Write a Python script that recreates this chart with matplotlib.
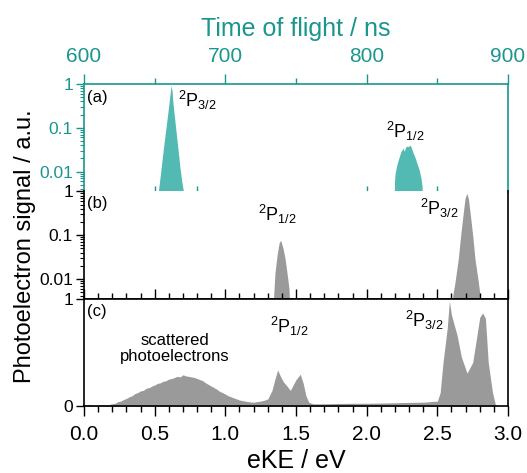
import matplotlib.pyplot as plt
from matplotlib.ticker import LogLocator, NullFormatter, FixedLocator, MultipleLocator

plt.rcParams['font.family'] = ['Liberation Sans', 'DejaVu Sans']
plt.rcParams['mathtext.fontset'] = 'custom'
plt.rcParams['mathtext.rm'] = 'Liberation Sans'
plt.rcParams['mathtext.it'] = 'Liberation Sans:italic'
plt.rcParams['mathtext.default'] = 'rm'

teal = '#1a968f'
teal_fill = '#52b9b3'
grey_fill = '#9a9a9a'

# (a) time of flight spectrum, two peaks
tof_p32 = [652.4, 652.6, 653.8, 655.2, 656.6, 658.0, 659.5, 660.9, 661.6, 662.3,
           663.0, 664.4, 665.8, 667.2, 667.9, 669.1, 670.3, 670.5]
sig_p32 = [0.002, 0.0035, 0.0074, 0.018, 0.043, 0.10, 0.245, 0.59, 0.93, 0.70,
           0.35, 0.134, 0.052, 0.020, 0.0123, 0.0062, 0.0036, 0.002]
tof_p12 = [819.4, 819.7, 820.1, 821.5, 822.9, 824.3, 825.8, 826.5, 827.9, 829.3,
           830.7, 831.4, 832.8, 834.2, 835.7, 837.1, 838.5, 839.2, 839.6]
sig_p12 = [0.002, 0.006, 0.009, 0.015, 0.021, 0.029, 0.034, 0.029, 0.038, 0.037,
           0.040, 0.036, 0.027, 0.021, 0.015, 0.011, 0.0069, 0.0045, 0.002]
tof_inner_ticks = [650, 680, 800, 850]

# (b) eKE spectrum, log scale
ekb_p12 = [1.337, 1.344, 1.351, 1.366, 1.380, 1.392, 1.408, 1.422, 1.436, 1.450, 1.457]
sigb_p12 = [0.002, 0.0054, 0.0135, 0.035, 0.066, 0.077, 0.050, 0.030, 0.0141, 0.0061, 0.002]
ekb_p32 = [2.605, 2.609, 2.625, 2.648, 2.665, 2.684, 2.696, 2.708, 2.719, 2.731,
           2.750, 2.766, 2.790, 2.802, 2.806]
sigb_p32 = [0.002, 0.0042, 0.0085, 0.029, 0.10, 0.34, 0.70, 0.91, 0.70, 0.34,
            0.10, 0.029, 0.0085, 0.0042, 0.002]

# (c) eKE spectrum, linear scale
ekc = [0.00, 0.04, 0.08, 0.12, 0.16, 0.20, 0.22, 0.24, 0.26, 0.28, 0.30, 0.32,
       0.34, 0.36, 0.38, 0.40, 0.42, 0.44, 0.46, 0.48, 0.50, 0.52, 0.54, 0.56,
       0.58, 0.60, 0.62, 0.64, 0.66, 0.68, 0.70, 0.72, 0.74, 0.76, 0.78, 0.80,
       0.82, 0.84, 0.86, 0.88, 0.90, 0.92, 0.94, 0.96, 0.98, 1.00, 1.02, 1.04,
       1.06, 1.08, 1.10, 1.12, 1.14, 1.16, 1.18, 1.20, 1.22, 1.25, 1.28, 1.30,
       1.33, 1.35, 1.37, 1.39, 1.41, 1.43, 1.46, 1.48, 1.50, 1.53, 1.55, 1.57,
       1.59, 1.62, 1.70, 1.80, 1.90, 2.00, 2.10, 2.20, 2.30, 2.40, 2.45, 2.50,
       2.52, 2.54, 2.57, 2.585, 2.60, 2.64, 2.67, 2.71, 2.75, 2.78, 2.80, 2.82,
       2.84, 2.86, 2.89, 2.91, 2.93, 3.00]
sigc = [0.015, 0.02, 0.012, 0.018, 0.015, 0.025, 0.03, 0.045, 0.05, 0.065, 0.075, 0.09,
        0.10, 0.12, 0.13, 0.145, 0.15, 0.17, 0.175, 0.19, 0.20, 0.215, 0.22, 0.235,
        0.24, 0.255, 0.26, 0.27, 0.28, 0.275, 0.295, 0.285, 0.28, 0.275, 0.27, 0.26,
        0.25, 0.24, 0.22, 0.205, 0.19, 0.175, 0.16, 0.14, 0.13, 0.115, 0.10, 0.09,
        0.08, 0.07, 0.06, 0.055, 0.05, 0.045, 0.042, 0.04, 0.045, 0.05, 0.06, 0.07,
        0.15, 0.25, 0.34, 0.28, 0.23, 0.20, 0.15, 0.20, 0.25, 0.30, 0.22, 0.10,
        0.04, 0.025, 0.025, 0.028, 0.03, 0.03, 0.032, 0.035, 0.038, 0.04, 0.045, 0.05,
        0.13, 0.41, 0.73, 0.98, 0.85, 0.66, 0.46, 0.31, 0.41, 0.66, 0.83, 0.87,
        0.82, 0.41, 0.13, 0.02, 0.0, 0.0]

fig = plt.figure(figsize=(5.27, 4.73), dpi=100)
left, width, h = 0.1594, 0.8046, 0.2273
ax_a = fig.add_axes([left, 0.5951, width, h])
ax_b = fig.add_axes([left, 0.3679, width, h])
ax_c = fig.add_axes([left, 0.1406, width, h])

# --- panel a
ax_a.fill_between(tof_p32, sig_p32, 1e-4, color=teal_fill, lw=0)
ax_a.fill_between(tof_p12, sig_p12, 1e-4, color=teal_fill, lw=0)
ax_a.set_yscale('log')
ax_a.set_ylim(0.0035, 1)
ax_a.set_xlim(600, 900)
ax_a.xaxis.tick_top()
ax_a.xaxis.set_label_position('top')
ax_a.set_xticks([600, 700, 800, 900])
ax_a.xaxis.set_minor_locator(FixedLocator([650, 750, 850]))
ax_a.set_xlabel('Time of flight / ns', fontsize=18, color=teal, labelpad=8)
ax_a.tick_params(axis='x', which='major', direction='out', length=7, width=1,
                 labelsize=15, colors=teal, pad=6)
ax_a.tick_params(axis='x', which='minor', direction='out', length=4, width=1, colors=teal)
for s in ax_a.spines.values():
    s.set_color(teal)
    s.set_linewidth(1.2)
bot = ax_a.secondary_xaxis('bottom')
bot.set_xticks(tof_inner_ticks)
bot.set_xticklabels([])
bot.tick_params(direction='in', length=4, width=1, colors=teal)
bot.spines['bottom'].set_visible(False)

# --- panel b
ax_b.fill_between(ekb_p12, sigb_p12, 1e-4, color=grey_fill, lw=0)
ax_b.fill_between(ekb_p32, sigb_p32, 1e-4, color=grey_fill, lw=0)
ax_b.set_yscale('log')
ax_b.set_ylim(0.0035, 1)
ax_b.set_xlim(0, 3)
ax_b.spines['top'].set_visible(False)
ax_b.xaxis.set_major_locator(MultipleLocator(0.5))
ax_b.xaxis.set_minor_locator(MultipleLocator(0.1))
ax_b.tick_params(axis='x', which='major', direction='in', length=7, width=1, labelbottom=False)
ax_b.tick_params(axis='x', which='minor', direction='in', length=4, width=1)

# --- panel c
ax_c.fill_between(ekc, sigc, 0, color=grey_fill, lw=0)
ax_c.set_xlim(0, 3)
ax_c.set_ylim(0, 1)
ax_c.set_yticks([0, 1])
ax_c.set_yticklabels(['0', '1'])
ax_c.xaxis.set_major_locator(MultipleLocator(0.5))
ax_c.xaxis.set_minor_locator(MultipleLocator(0.1))
ax_c.xaxis.set_major_formatter(plt.FormatStrFormatter('%.1f'))
ax_c.tick_params(axis='x', which='major', direction='out', length=7, width=1, labelsize=15, pad=6)
ax_c.tick_params(axis='x', which='minor', direction='out', length=4, width=1)
ax_c.set_xlabel('eKE / eV', fontsize=18, labelpad=4)

for ax in (ax_a, ax_b):
    ax.set_yticks([0.01, 0.1, 1])
    ax.set_yticklabels(['0.01', '0.1', '1'])
    ax.yaxis.set_minor_locator(LogLocator(base=10, subs=range(2, 10)))
    ax.yaxis.set_minor_formatter(NullFormatter())
    ax.tick_params(axis='y', which='minor', direction='out', length=3, width=0.8)
for ax in (ax_a, ax_b, ax_c):
    ax.tick_params(axis='y', which='major', direction='out', length=6, width=1, labelsize=12.5, pad=2)
for ax in (ax_b, ax_c):
    for k in ('left', 'right', 'bottom', 'top'):
        ax.spines[k].set_linewidth(1.2)
ax_a.tick_params(axis='y', which='both', colors=teal)

# labels
ax_a.text(0.007, 0.87, '(a)', transform=ax_a.transAxes, fontsize=12, va='center')
ax_b.text(0.007, 0.884, '(b)', transform=ax_b.transAxes, fontsize=12, va='center')
ax_c.text(0.007, 0.888, '(c)', transform=ax_c.transAxes, fontsize=12, va='center')
ax_a.text(666.5, 0.43, r'$^{2}$P$_{3/2}$', fontsize=13, va='center')
ax_a.text(813.7, 0.083, r'$^{2}$P$_{1/2}$', fontsize=13, va='center')
ax_b.text(1.231, 0.30, r'$^{2}$P$_{1/2}$', fontsize=13, va='center')
ax_b.text(2.377, 0.42, r'$^{2}$P$_{3/2}$', fontsize=13, va='center')
ax_c.text(1.316, 0.74, r'$^{2}$P$_{1/2}$', fontsize=13, va='center')
ax_c.text(2.27, 0.80, r'$^{2}$P$_{3/2}$', fontsize=13, va='center')
ax_c.text(0.644, 0.54, 'scattered\nphotoelectrons', fontsize=12, ha='center', va='center',
          linespacing=1.1)

fig.text(0.047, 0.48, 'Photoelectron signal / a.u.', rotation=90, fontsize=17,
         ha='center', va='center')

fig.savefig('out.png', dpi=100)
